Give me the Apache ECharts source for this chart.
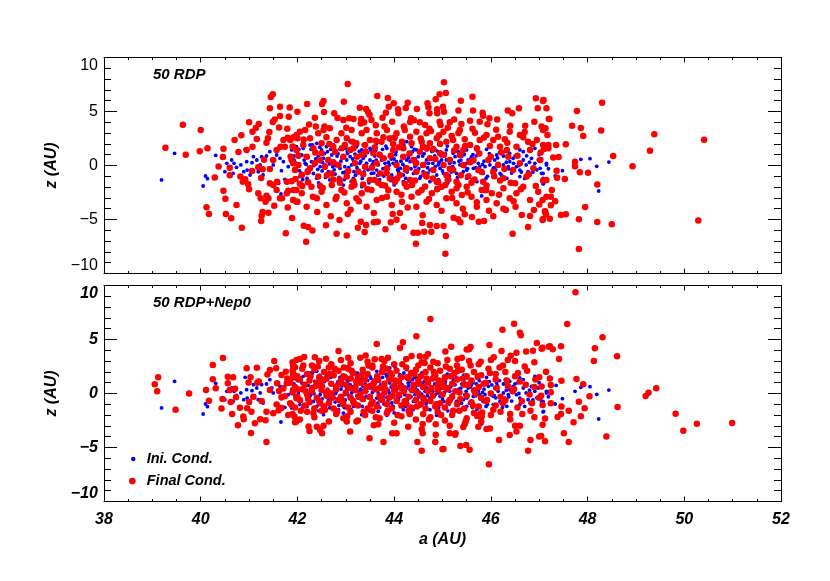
<!DOCTYPE html>
<html>
<head>
<meta charset="utf-8">
<script src="https://cdn.jsdelivr.net/npm/echarts@6/dist/echarts.min.js"></script>
<style>
html,body{margin:0;padding:0;background:#fff;}
#chart{width:830px;height:581px;}
</style>
</head>
<body>
<div id="chart"></div>
<script>
// ---- data (a [AU], z [AU]) ----
const panelTitles = ['50 RDP', '50 RDP+Nep0'];
const seriesNames = ['Ini. Cond.', 'Final Cond.'];
const aRange = [38, 52];
const zRange = [-10, 10];

// Initial conditions (identical in both panels)
const iniCond = [
[39.19,-1.34],[39.46,1.13],[40.05,-1.9],[40.1,-0.97],[40.14,-1.22],[40.31,0.94],[40.5,-0.57],[40.54,0.2],[40.64,0.51],[40.67,-0.73],[40.69,0.2],[40.74,-0.17],[40.83,0.05],[40.89,-0.57],[40.92,1.5],[40.95,0.35],[40.96,-0.42],[41.02,-0.88],[41.06,0.26],[41.09,0.82],[41.16,0.51],[41.19,-0.57],[41.23,0.05],[41.26,0.82],[41.29,-0.88],[41.36,0.88],[41.43,1.28],[41.47,0.51],[41.5,0.05],[41.57,0.97],[41.61,-1.65],[41.64,0.66],[41.66,-2.64],[41.67,-0.48],[41.71,0.35],[41.74,-1.28],[41.81,-0.11],[41.85,0.94],[41.88,1.44],[41.93,0.51],[41.98,-0.42],
[41.98,1.74],[42.12,1.59],[42.26,1.9],[42.4,2.05],[42.5,1.44],[42.6,1.74],[42.74,1.9],[42.88,1.5],[43.05,2.52],[43.09,2.21],[43.22,1.74],[43.36,1.9],[43.5,1.59],[43.64,2.05],[43.74,2.3],[43.85,1.59],[43.91,2.36],[44.02,2.42],[44.12,1.74],[44.26,2.21],[44.36,1.74],[44.46,1.44],[44.57,1.9],[44.67,1.44],[44.81,1.68],[44.91,1.28],[45.08,1.44],[45.22,1.13],[45.33,1.28],[45.5,1.44],[45.71,1.44],[45.91,1.5],[46.12,0.97],[46.26,0.88],[46.39,1.13],[46.6,1.44],[46.67,1.28],[46.91,1.59],[47.15,1.9],
[41.92,0.51],[42.02,0.05],[42.09,0.97],[42.19,-0.42],[42.29,0.35],[42.36,1.13],[42.47,-0.11],[42.54,0.66],[42.64,-0.57],[42.71,0.97],[42.81,0.2],[42.88,-0.26],[42.95,0.88],[43.02,0.51],[43.12,0.05],[43.19,1.06],[43.26,-0.42],[43.36,0.66],[43.43,0.2],[43.53,-0.73],[43.6,0.88],[43.67,0.05],[43.74,0.51],[43.85,-0.35],[43.91,0.97],[43.98,0.2],[44.09,-0.57],[44.16,0.82],[44.22,-0.11],[44.33,0.35],[44.4,-0.73],[44.5,0.82],[44.57,-0.05],[44.67,0.51],[44.74,-0.42],[44.84,0.88],[44.91,0.05],[45.02,-0.73],[45.08,0.51],[45.19,-0.26],[45.26,0.82],[45.36,0.05],[45.43,-0.57],[45.53,0.51],[45.64,-0.26],[45.74,0.2],[45.84,-0.73],[45.95,0.66],[46.05,-0.26],[46.15,0.2],[46.29,-0.42],[46.39,0.35],[46.53,-0.11],[46.67,0.51],[46.77,-0.57],[46.91,0.2],[47.02,-0.26],[47.15,0.05],
[41.95,-0.26],[42.16,0.2],[42.33,-0.73],[42.43,0.82],[42.57,0.05],[42.78,-0.79],[42.98,-0.11],[43.09,0.82],[43.29,0.2],[43.5,0.51],[43.64,-0.42],[43.81,0.66],[43.95,-0.88],[44.05,0.35],[44.19,-0.88],[44.29,0.97],[44.43,-0.11],[44.6,-0.57],[44.71,0.2],[44.88,-0.88],[44.98,0.51],[45.15,0.2],[45.29,-0.73],[45.46,-0.11],[45.6,0.82],[45.77,-0.11],[45.98,0.05],[46.19,-0.73],[46.36,-0.11],[46.6,-0.42],[46.84,0.66],[47.08,-0.73],
[41.88,-1.34],[42.05,-1.03],[42.22,-1.65],[42.4,-1.19],[42.54,-1.96],[42.67,-1.34],[42.85,-1.5],[42.95,-1.81],[43.16,-1.19],[43.33,-1.96],[43.47,-1.34],[43.67,-1.65],[43.85,-2.02],[43.98,-1.19],[44.19,-1.5],[44.36,-1.81],[44.53,-1.19],[44.74,-1.5],[44.88,-2.02],[45.08,-1.34],[45.29,-1.59],[45.5,-1.19],[45.71,-1.5],[45.81,-2.82],[46.05,-1.03],[46.33,-1.19],[46.6,-1.03],[46.81,-0.88],[47.08,-1.19],
[41.93,0.88],[42.04,-0.48],[42.22,0.76],[42.27,-0.17],[42.48,0.35],[42.62,1.28],[42.73,-0.11],[42.82,0.88],[42.94,-0.66],[43.03,1.28],[43.17,-0.57],[43.33,1.44],[43.42,-0.26],[43.57,0.35],[43.69,1.13],[43.79,-0.97],[43.9,0.05],[44.04,1.28],[44.13,-0.26],[44.26,0.51],[44.38,1.28],[44.46,0.05],[44.59,0.88],[44.66,-0.97],[44.8,0.2],[44.95,-0.26],[45.05,0.88],[45.14,-0.97],[45.24,0.26],[45.4,0.88],[45.5,-0.42],[45.65,0.35],[45.88,-0.11],[46.08,0.51],[46.26,0.05],[46.46,0.66],[46.73,0.05],[46.98,0.51],
[47.15,0.2],[47.19,-0.3],[47.33,-0.97],[47.35,0.75],[47.48,-0.48],[47.74,0.2],[47.86,0.57],[48.05,0.63],[48.19,-0.08],[48.23,-2.36],[48.44,0.32],[47.09,-1.65],[47.05,-0.73],[47.08,-1.71],
[42.0,1.2],[42.08,-0.7],[42.14,0.5],[42.2,-1.2],[42.28,1.5],[42.34,0.0],[42.42,-0.35],[42.46,1.7],[42.52,0.3],[42.58,-1.1],[42.66,0.15],[42.69,1.5],[42.76,-0.4],[42.84,1.1],[42.9,0.4],[42.97,-1.3],[43.0,1.6],[43.06,-0.2],[43.14,0.6],[43.2,-0.9],[43.24,1.9],[43.31,0.4],[43.38,-0.6],[43.45,1.2],[43.48,-1.6],[43.55,0.1],[43.62,1.4],[43.66,-0.9],[43.72,0.8],[43.77,-0.3],[43.83,1.8],[43.88,0.3],[43.93,-1.4],[44.0,0.6],[44.07,-0.4],[44.11,1.6],[44.18,0.1],[44.24,-1.2],[44.3,0.7],[44.35,-0.3],[44.42,1.5],[44.48,0.3],[44.55,-1.0],[44.62,1.1],[44.69,-0.2],[44.76,0.6],[44.83,-1.2],[44.87,1.4],[44.93,0.3],[45.0,-0.5],[45.06,1.1],[45.11,-1.6],[45.17,0.6],[45.21,-0.1],[45.28,1.5],[45.34,0.4],[45.39,-0.9],[45.45,1.0],[45.52,-0.3],[45.58,0.6],[45.62,-1.3],[45.7,0.9],[45.78,-0.5],[45.86,0.4],[45.93,-1.0],[46.02,0.8],[46.1,-0.4],[46.18,1.2],[46.24,-1.3],[46.32,0.3],[46.43,-0.7],[46.5,0.9],[46.58,0.0],[46.7,-1.2],[46.8,0.3],[46.95,-0.4],[47.05,0.6],
[41.95,0.3],[42.03,1.5],[42.11,-1.3],[42.18,0.1],[42.24,-0.6],[42.31,1.9],[42.38,0.6],[42.44,-1.6],[42.51,-0.5],[42.56,1.1],[42.62,0.4],[42.68,-0.8],[42.73,1.6],[42.79,0.0],[42.86,-1.1],[42.92,0.7],[42.99,-0.6],[43.04,1.1],[43.11,-1.5],[43.17,0.3],[43.23,-0.2],[43.28,1.3],[43.34,-1.2],[43.4,0.9],[43.46,-0.4],[43.52,1.4],[43.58,-0.7],[43.63,0.5],[43.7,-1.3],[43.76,1.5],[43.81,0.2],[43.87,-0.7],[43.94,0.6],[44.0,-1.8],[44.03,1.0],[44.09,-0.3],[44.14,0.4],[44.2,1.9],[44.27,-0.6],[44.32,1.1],[44.39,-1.5],[44.44,0.6],[44.51,-0.3],[44.58,1.7],[44.64,0.2],[44.7,-0.7],[44.78,1.3],[44.85,-0.1],[44.92,-1.3],[44.97,0.9],[45.04,0.1],[45.1,1.8],[45.18,-0.6],[45.23,1.3],[45.31,-1.1],[45.38,0.5],[45.44,1.7],[45.49,0.2],[45.56,-0.9],[45.63,1.0],[45.69,-0.2],[45.76,1.2],[45.83,0.1],[45.9,-1.2],[45.97,1.1],[46.07,-0.2],[46.14,0.7],[46.22,-0.9],[46.3,1.3],[46.37,-0.3],[46.47,0.2],[46.56,1.0],[46.63,-0.6],[46.74,0.9],[46.87,-0.6],[47.0,1.0]
];

// Final conditions, 50 RDP
const finalRDP = [
[39.27,1.65],[39.63,3.78],[39.69,1.0],[40.0,3.29],[39.98,1.31],[40.14,1.59],[40.12,-3.87],[40.17,-4.49],[40.47,-2.33],[40.47,1.56],[40.46,0.79],[40.51,-3.07],[40.52,-4.49],[40.63,-4.89],[40.7,2.36],[40.74,-3.66],[40.84,2.79],[40.78,1.25],[40.6,-0.2],[40.37,-0.1],[40.29,-1.1],[40.6,-0.9],[40.85,-5.76],[40.87,-1.5],[40.95,1.43],[41.0,4.0],[41.07,3.13],[41.07,1.74],[40.98,-1.74],[41.0,-2.2],[41.14,3.47],[41.16,2.45],[41.2,3.84],[41.25,-5.14],[41.26,-4.65],[41.28,-4.3],[41.31,0.54],[41.36,2.11],[41.42,3.1],[41.45,6.34],[41.49,6.59],[41.43,5.29],[41.49,4.02],[41.53,4.27],[41.64,4.58],[41.64,5.44],[41.79,3.41],[41.82,4.52],[41.84,5.38],[41.76,-6.28],[41.89,-4.86],[41.8,-3.9],[41.68,-3.04],[41.58,-1.5],[41.52,-3.72],[41.4,-4.37],[41.34,-3.35],
[40.82,-1.03],[40.92,-1.28],[41.06,-0.51],[41.19,-0.17],[41.28,-0.35],[41.25,-1.16],[41.43,-0.32],[41.5,0.51],[41.57,1.44],[41.65,1.74],[41.71,2.36],[41.74,1.74],[41.86,0.82],[41.91,1.74],[41.91,0.2],[41.98,1.44],[42.0,2.52],[41.96,-1.25],[41.98,-2.27],[42.0,-3.35],[41.91,-3.19],[41.78,-2.58],[41.57,-2.27],[41.5,-1.81],[41.43,-1.65],[41.19,-2.58],[41.64,-3.04],[41.78,-1.5],[41.4,-3.04],[41.24,-3.04],[41.36,-2.79],[41.81,-2.33],[41.8,2.58],[41.39,2.52],[41.62,3.53],
[43.04,7.55],[45.03,7.7],[45.07,6.71],[44.94,6.59],[43.65,6.44],[43.87,6.25],[45.62,6.37],[44.86,6.13],[44.69,5.76],[44.71,5.39],[45.01,5.45],[42.54,5.97],[42.51,5.69],[42.2,5.69],[42.96,5.91],[44.28,5.82],[43.99,5.76],[44.47,5.23],[44.09,4.83],[44.08,5.2],[44.24,5.32],[45.38,6.0],[44.73,4.83],[44.89,4.83],[44.89,5.2],[42.0,4.98],[42.55,4.95],[42.76,4.83],[43.29,5.35],[43.42,5.23],[43.46,4.95],[43.83,4.89],[43.89,5.45],[45.03,4.98],[45.33,5.1],[45.63,5.1],[45.83,4.89],[45.84,4.61],[46.35,5.1],[46.58,5.29],[46.93,6.22],[46.97,5.29],[47.08,5.97],[47.2,4.31],[42.36,4.43],[42.95,4.21],[43.07,4.37],[43.16,4.31],[43.32,4.31],[43.38,4.0],[43.53,4.21],[43.62,3.72],[43.76,4.43],[43.96,4.06],[44.35,4.37],[44.33,4.03],[44.53,4.0],[44.64,3.75],[44.73,3.41],[44.94,4.06],[44.96,3.75],[45.15,4.0],[45.24,4.27],[45.39,3.84],[45.57,4.15],[45.77,4.06],[45.93,3.81],[45.97,4.37],[46.13,4.27],[46.4,3.69],[46.44,4.83],[46.71,3.69],[46.9,4.06],[47.13,3.44],
[42.18,-7.05],[45.06,-8.16],[44.45,-7.24],[43.02,-6.47],[42.81,-6.31],[42.22,-5.69],[42.13,-5.57],[42.31,-6.03],[42.59,-5.54],[42.87,-5.05],[43.04,-4.49],[43.25,-5.76],[43.31,-5.2],[43.39,-6.16],[43.42,-5.51],[43.58,-5.26],[43.66,-5.2],[43.82,-5.91],[43.93,-5.26],[44.05,-5.02],[44.12,-4.4],[44.2,-5.66],[44.4,-6.22],[44.49,-6.22],[44.58,-5.32],[44.62,-6.13],[44.74,-5.51],[44.77,-6.13],[44.88,-5.6],[45.02,-5.6],[45.07,-6.53],[45.23,-4.83],[45.32,-4.98],[45.37,-5.26],[45.46,-4.52],[45.61,-4.77],[45.75,-5.2],[45.86,-5.14],[46.05,-4.71],[46.26,-4.0],[46.31,-4.12],[46.45,-6.31],[46.51,-3.81],[46.64,-4.58],[46.77,-5.69],[46.81,-4.68],[46.89,-4.12],[47.08,-4.95],[47.12,-4.27],
[41.85,2.36],[41.92,2.61],[41.98,2.82],[42.05,3.13],[42.16,3.29],[42.26,2.52],[42.38,3.6],[42.43,2.98],[42.54,3.29],[42.6,2.61],[42.67,3.44],[42.81,2.36],[42.91,2.98],[43.02,2.52],[43.12,3.29],[43.22,2.05],[43.33,2.98],[43.43,3.29],[43.5,2.36],[43.64,2.98],[43.74,2.21],[43.85,3.29],[43.91,2.52],[44.05,2.98],[44.16,2.21],[44.22,3.29],[44.33,2.67],[44.46,3.13],[44.57,2.21],[44.67,2.98],[44.74,2.05],[44.88,2.52],[45.02,3.13],[45.08,2.21],[45.19,2.73],[45.29,1.74],[45.36,3.29],[45.46,2.42],[45.57,1.9],[45.67,3.04],[45.77,2.36],[45.91,2.82],[46.05,2.36],[46.19,1.74],[46.29,2.42],[46.39,3.13],[46.53,1.74],[46.67,2.61],[46.81,1.44],[46.95,2.36],[47.08,1.9],[47.19,1.59],
[41.88,0.51],[41.95,-0.42],[42.02,0.05],[42.09,-0.88],[42.19,0.82],[42.26,-0.26],[42.36,0.2],[42.43,-1.03],[42.5,1.13],[42.57,-0.11],[42.64,0.51],[42.71,-0.73],[42.78,1.28],[42.85,0.05],[42.95,0.82],[43.02,-1.03],[43.09,1.44],[43.19,0.2],[43.26,-0.57],[43.33,0.97],[43.4,-0.11],[43.5,-1.34],[43.57,1.13],[43.64,0.2],[43.71,-0.73],[43.78,0.66],[43.85,-0.26],[43.91,-1.19],[43.98,1.44],[44.05,0.05],[44.12,-0.88],[44.19,0.82],[44.26,-0.26],[44.33,-1.34],[44.4,0.51],[44.46,-0.57],[44.53,1.28],[44.6,0.05],[44.67,-1.03],[44.74,0.66],[44.81,-0.42],[44.88,-1.5],[44.95,1.13],[45.02,0.05],[45.08,-0.88],[45.15,0.51],[45.22,-0.42],[45.29,-1.5],[45.36,0.97],[45.43,0.05],[45.53,-1.03],[45.64,0.51],[45.74,-0.42],[45.84,-1.5],[45.95,0.51],[46.05,-0.57],[46.15,0.05],[46.26,-1.19],[46.36,0.82],[46.46,-0.42],[46.6,0.2],[46.74,-1.03],[46.88,-0.26],[47.02,0.51],[47.15,-1.34],
[41.92,-2.27],[41.98,-3.35],[42.09,-2.58],[42.19,-3.81],[42.29,-1.96],[42.4,-3.04],[42.5,-2.42],[42.6,-3.66],[42.71,-1.81],[42.81,-2.89],[42.91,-2.27],[43.02,-3.5],[43.12,-1.96],[43.22,-3.04],[43.33,-2.58],[43.43,-3.81],[43.53,-2.27],[43.64,-3.19],[43.74,-1.81],[43.85,-2.89],[43.95,-3.66],[44.05,-2.42],[44.16,-3.35],[44.26,-1.96],[44.36,-2.89],[44.46,-3.81],[44.57,-2.27],[44.67,-3.35],[44.78,-2.58],[44.88,-3.66],[44.98,-1.96],[45.08,-3.04],[45.19,-2.42],[45.29,-3.5],[45.4,-2.73],[45.5,-1.96],[45.6,-2.89],[45.71,-3.81],[45.81,-2.27],[45.91,-3.19],[46.02,-2.58],[46.12,-3.5],[46.26,-2.11],[46.39,-3.04],[46.53,-2.58],[46.67,-1.96],[46.81,-3.19],[46.98,-2.42],[47.15,-2.89],
[41.9,1.74],[42.12,1.9],[42.33,1.59],[42.5,2.05],[42.74,1.74],[42.98,1.9],[43.16,1.59],[43.4,1.9],[43.6,1.68],[43.78,2.61],[43.98,1.99],[44.19,1.59],[44.36,2.05],[44.6,1.74],[44.81,1.5],[44.95,1.99],[45.22,2.36],[45.43,1.44],[45.71,1.59],[45.98,1.81],[46.15,2.67],[46.33,1.44],[46.6,2.82],[46.77,2.21],[47.08,3.29],
[41.88,-1.45],[42.05,-1.7],[42.22,-1.55],[42.47,-1.9],[42.74,-1.3],[42.88,-1.6],[43.16,-1.45],[43.36,-1.75],[43.6,-1.35],[43.81,-1.85],[44.02,-1.5],[44.22,-1.7],[44.43,-1.4],[44.64,-1.95],[44.91,-1.55],[45.12,-1.3],[45.33,-1.8],[45.6,-1.6],[45.91,-1.85],[46.19,-1.4],[46.5,-1.65],
[42.02,0.9],[42.1,-1.9],[42.13,2.4],[42.21,-0.6],[42.24,3.8],[42.32,-2.9],[42.37,1.2],[42.41,-4.3],[42.46,0.5],[42.52,-2.1],[42.56,3.6],[42.61,-0.9],[42.66,2.0],[42.69,-4.7],[42.74,0.3],[42.79,-3.1],[42.83,4.4],[42.87,-1.3],[42.92,1.6],[42.97,-2.5],[43.01,3.5],[43.05,-0.5],[43.1,-4.1],[43.14,2.2],[43.18,-1.8],[43.23,0.8],[43.27,-3.3],[43.31,3.9],[43.36,-0.8],[43.41,1.3],[43.45,-2.2],[43.49,4.7],[43.54,-0.2],[43.58,-4.4],[43.62,2.3],[43.67,-1.6],[43.7,1.0],[43.75,-3.0],[43.8,3.6],[43.84,-0.7],[43.88,-2.3],[43.93,0.9],[43.97,-4.5],[44.01,2.6],[44.06,-1.2],[44.1,1.7],[44.15,-2.7],[44.2,3.6],[44.24,-0.4],[44.28,-3.9],[44.32,1.1],[44.37,-1.8],[44.41,4.2],[44.45,0.2],[44.5,-2.5],[44.55,2.5],[44.59,-4.6],[44.63,-0.8],[44.68,1.6],[44.72,-3.1],[44.76,3.2],[44.8,-1.2],[44.85,0.6],[44.89,-2.2],[44.93,2.8],[44.98,-4.2],[45.02,1.0],[45.06,-1.8],[45.11,3.5],[45.15,-0.3],[45.2,-3.0],[45.24,1.4],[45.29,-2.1],[45.33,3.0],[45.38,-0.9],[45.42,-4.0],[45.47,1.8],[45.52,-2.5],[45.57,0.3],[45.62,3.4],[45.66,-1.3],[45.71,-3.4],[45.76,1.1],[45.81,-0.6],[45.86,2.6],[45.9,-2.3],[45.96,-4.2],[46.0,0.8],[46.07,-1.0],[46.11,3.3],[46.17,-2.7],[46.22,1.2],[46.28,-0.3],[46.34,2.1],[46.41,-1.6],[46.47,-3.3],[46.55,0.9],[46.62,-2.2],[46.7,3.1],[46.78,-0.8],[46.86,2.0],[46.93,-1.9],[47.0,-3.6],[47.03,1.2],
[47.09,6.06],[47.15,5.29],[47.21,4.31],[47.05,3.6],[47.17,2.82],[47.1,1.53],[47.19,1.9],[47.35,1.9],[47.29,0.75],[47.4,0.79],[47.55,1.96],[47.74,0.35],[47.74,-0.08],[47.68,3.69],[47.78,5.04],[47.86,3.47],[47.91,2.73],[48.3,5.82],[48.28,3.23],[48.53,0.88],[48.93,-0.08],[49.29,1.37],[49.38,2.89],[50.41,2.39],[50.29,-5.1],[48.5,-5.45],[48.2,-5.23],[47.95,-3.84],[47.82,-4.98],[47.82,-7.73],[48.2,-1.77],[48.01,-0.66],[47.84,-0.63],[47.53,-1.25],[47.37,-1.13],[47.36,-0.48],[47.26,-2.27],[47.24,-2.89],[47.33,-3.32],[47.24,-3.69],[47.12,-4.24],[47.14,-4.52],[47.22,-4.92],[47.07,-5.04],[47.45,-4.58],[47.55,-4.52],[47.07,-3.2],[47.08,-1.4]
];

// Final conditions, 50 RDP+Nep0
const finalRDPNep0 = [
[39.05,0.85],[39.12,1.5],[39.1,0.2],[39.48,-1.5],[39.76,0.0],[40.11,0.32],[40.25,2.64],[40.25,1.31],[40.31,0.48],[40.17,-0.66],[40.45,-0.51],[40.46,3.29],[40.43,-1.4],[40.56,1.56],[40.56,0.94],[40.62,-0.79],[40.67,1.5],[40.71,0.45],[40.77,-2.95],[40.65,-1.9],[40.88,-2.14],[40.95,2.33],[40.96,-1.37],[41.03,1.5],[41.04,-3.66],[41.16,2.39],[41.12,-2.76],[41.36,-4.49],[41.52,3.01],[41.98,3.1],
[40.81,-1.31],[40.99,1.03],[41.09,-0.29],[41.17,1.0],[41.26,-0.69],[41.23,-2.39],[41.34,-2.48],[41.38,1.77],[41.43,0.32],[41.43,2.18],[41.56,2.33],[41.58,0.94],[41.57,-1.03],[41.62,0.23],[41.67,1.71],[41.76,2.02],[41.78,0.94],[41.79,1.4],[41.61,-1.56],[41.67,-1.34],[41.67,-0.35],[41.71,0.48],[41.74,-0.26],[41.91,2.58],[41.95,2.42],[41.91,1.81],[42.02,1.34],[41.97,-2.61],[41.94,-2.15],[40.73,-0.35],[40.6,0.32],[40.89,-2.39],[41.2,1.1],[41.85,1.25],[41.91,0.32],[41.98,-0.45],[41.88,-1.06],[41.81,-1.99],[41.5,-1.84],[41.36,-1.68],[41.05,-1.68],[41.0,-0.76],
[41.9,2.9],[42.05,3.2],[42.3,2.6],[42.45,3.0],[42.7,2.7],[42.9,3.1],[43.1,2.8],[43.3,3.3],[43.55,2.6],[43.8,3.0],[44.0,2.7],[44.25,3.2],[44.5,2.6],[44.65,3.4],[44.9,2.8],[45.1,3.1],[45.3,2.6],[45.55,3.0],[45.75,2.7],[46.0,3.1],[46.25,2.6],[46.5,3.0],[46.7,2.5],[46.9,2.9],
[41.9,2.1],[42.0,1.6],[42.1,2.3],[42.2,1.8],[42.35,2.2],[42.45,1.5],[42.55,2.0],[42.65,2.4],[42.75,1.7],[42.85,2.1],[42.95,1.6],[43.05,2.3],[43.15,1.9],[43.25,1.5],[43.35,2.2],[43.45,1.8],[43.55,2.4],[43.65,1.6],[43.75,2.0],[43.85,2.3],[43.95,1.7],[44.05,2.1],[44.15,1.5],[44.25,2.4],[44.35,1.9],[44.45,2.2],[44.55,1.6],[44.65,2.0],[44.75,2.4],[44.85,1.7],[44.95,2.1],[45.05,1.5],[45.15,2.3],[45.25,1.9],[45.4,2.2],[45.5,1.6],[45.65,2.0],[45.8,1.7],[45.95,2.3],[46.1,1.8],[46.3,2.0],[46.5,1.6],[46.75,2.1],[47.0,1.5],
[41.85,1.0],[41.95,0.6],[42.05,1.3],[42.15,0.8],[42.25,1.2],[42.3,0.5],[42.4,1.0],[42.5,0.7],[42.6,1.4],[42.7,0.9],[42.8,0.6],[42.9,1.2],[43.0,0.8],[43.1,1.4],[43.2,0.6],[43.3,1.0],[43.4,1.3],[43.5,0.7],[43.6,1.1],[43.7,0.5],[43.8,0.9],[43.9,1.3],[44.0,0.7],[44.1,1.1],[44.2,0.5],[44.3,1.4],[44.4,0.8],[44.5,1.2],[44.6,0.6],[44.7,1.0],[44.8,1.4],[44.9,0.7],[45.0,1.1],[45.1,0.5],[45.2,0.9],[45.3,1.3],[45.45,0.8],[45.6,1.2],[45.75,0.6],[45.9,1.0],[46.1,1.3],[46.35,0.7],[46.6,1.1],[46.9,0.6],
[41.9,0.1],[42.0,-0.3],[42.1,0.4],[42.2,-0.1],[42.3,0.2],[42.4,-0.4],[42.5,0.3],[42.6,-0.2],[42.7,0.0],[42.8,0.4],[42.9,-0.3],[43.0,0.1],[43.1,-0.4],[43.2,0.3],[43.3,-0.1],[43.4,0.2],[43.5,-0.3],[43.6,0.4],[43.7,-0.2],[43.8,0.1],[43.9,-0.4],[44.0,0.3],[44.1,-0.1],[44.2,0.2],[44.3,-0.3],[44.4,0.4],[44.5,0.0],[44.6,-0.4],[44.7,0.2],[44.8,-0.2],[44.9,0.3],[45.0,-0.1],[45.1,0.4],[45.2,-0.3],[45.35,0.1],[45.5,-0.2],[45.65,0.3],[45.8,-0.4],[46.0,0.0],[46.2,-0.3],[46.45,0.2],[46.8,-0.1],
[41.85,-0.9],[41.95,-1.3],[42.05,-0.6],[42.15,-1.1],[42.25,-0.8],[42.35,-1.4],[42.45,-0.7],[42.55,-1.2],[42.65,-0.9],[42.75,-1.4],[42.85,-0.6],[42.95,-1.0],[43.05,-1.3],[43.15,-0.7],[43.25,-1.1],[43.35,-0.5],[43.45,-1.4],[43.55,-0.8],[43.65,-1.2],[43.75,-0.6],[43.85,-1.0],[43.95,-1.4],[44.05,-0.7],[44.15,-1.1],[44.25,-0.9],[44.35,-1.3],[44.45,-0.6],[44.55,-1.0],[44.65,-1.4],[44.75,-0.7],[44.85,-1.2],[44.95,-0.9],[45.05,-1.3],[45.15,-0.6],[45.3,-1.0],[45.45,-1.4],[45.6,-0.8],[45.75,-1.2],[45.9,-0.7],[46.1,-1.1],[46.3,-0.6],[46.55,-1.3],[46.85,-0.9],
[41.9,-1.9],[42.05,-2.4],[42.2,-1.7],[42.35,-2.2],[42.5,-1.6],[42.65,-2.6],[42.8,-1.9],[42.95,-2.3],[43.1,-1.7],[43.25,-2.5],[43.4,-2.0],[43.55,-1.6],[43.7,-2.3],[43.85,-1.8],[44.0,-2.7],[44.15,-2.1],[44.3,-1.6],[44.45,-2.4],[44.6,-1.9],[44.75,-2.2],[44.9,-1.7],[45.05,-2.5],[45.2,-2.0],[45.35,-1.6],[45.5,-2.3],[45.65,-1.8],[45.8,-2.6],[46.0,-2.0],[46.2,-1.7],[46.4,-2.4],[46.65,-1.9],[46.9,-2.2],
[41.93,1.5],[42.0,0.4],[42.07,-1.6],[42.12,2.6],[42.17,0.2],[42.22,-0.5],[42.27,1.6],[42.33,-1.8],[42.38,0.7],[42.42,2.5],[42.47,-0.9],[42.52,1.2],[42.57,-1.5],[42.62,0.2],[42.67,1.8],[42.72,-0.4],[42.77,2.3],[42.82,-1.7],[42.87,0.9],[42.92,-0.7],[42.98,1.5],[43.03,-2.1],[43.08,0.5],[43.12,2.1],[43.17,-0.9],[43.22,1.1],[43.27,-0.3],[43.32,1.7],[43.37,-1.7],[43.42,0.6],[43.47,2.6],[43.52,-1.0],[43.57,0.9],[43.62,-2.2],[43.67,1.3],[43.72,-0.5],[43.77,2.5],[43.82,0.4],[43.87,-1.6],[43.92,1.9],[43.97,-0.2],[44.02,1.2],[44.07,-2.0],[44.12,0.6],[44.17,2.7],[44.22,-0.7],[44.27,1.5],[44.32,-1.9],[44.37,0.3],[44.42,1.8],[44.47,-1.2],[44.52,0.9],[44.57,2.9],[44.62,-0.6],[44.67,1.4],[44.72,-2.4],[44.77,0.5],[44.82,2.0],[44.87,-1.0],[44.92,1.2],[44.97,-2.0],[45.02,0.6],[45.07,2.5],[45.12,-0.8],[45.17,1.6],[45.22,-1.6],[45.27,0.2],[45.32,2.1],[45.37,-0.5],[45.42,1.4],[45.48,-2.6],[45.53,0.8],[45.58,2.6],[45.63,-1.1],[45.68,0.0],[45.73,1.6],[45.78,-1.9],[45.85,0.9],[45.92,-0.6],[45.98,1.9],[46.05,-1.5],[46.12,0.5],[46.18,2.4],[46.25,-0.9],[46.33,1.2],[46.4,-1.9],[46.48,0.4],[46.56,1.9],[46.64,-0.7],[46.72,0.8],[46.82,-1.6],[46.92,1.3],[47.0,-0.4],
[44.75,6.9],[46.48,6.46],[46.24,5.9],[46.6,5.62],[46.62,5.4],[44.46,5.29],[43.64,4.58],[44.18,4.74],[44.12,4.21],[45.97,4.49],[45.58,4.3],[45.55,4.1],[45.5,4.07],[45.18,4.34],[45.06,3.9],[42.85,3.93],[46.95,4.67],[46.73,3.9],[46.87,3.96],[47.05,4.15],[47.2,4.34],[46.22,3.93],[46.53,3.78],[44.7,3.66],[44.63,2.82],[44.53,3.44],[43.41,3.53],[43.74,3.19],[43.87,3.32],[43.45,2.95],[43.6,3.16],[42.14,3.38],[42.36,3.35],[43.05,3.32],[42.96,2.4],[42.59,3.22],[44.36,3.47],[44.81,2.95],[45.31,3.19],[45.4,3.3],[45.79,2.95],[46.06,3.35],[46.35,3.1],[46.41,3.5],
[45.96,-6.56],[44.57,-5.29],[45.02,-5.14],[45.0,-5.17],[45.56,-5.2],[45.49,-4.77],[45.37,-4.86],[44.48,-4.49],[44.85,-4.49],[45.15,-3.69],[45.26,-3.81],[45.27,-3.69],[44.86,-3.81],[44.59,-3.69],[43.78,-4.49],[44.05,-3.69],[43.96,-3.69],[43.49,-4.15],[43.09,-3.53],[42.51,-3.69],[42.47,-3.38],[42.25,-3.47],[42.23,-3.05],[42.4,-3.07],[46.17,-4.3],[46.77,-5.29],[46.82,-4.3],[47.0,-3.97],[46.53,-3.53],[46.5,-2.98],[46.6,-2.98],[46.39,-3.84],[45.91,-3.29],[45.98,-3.25],[45.74,-3.07],[45.72,-2.08],[45.81,-2.14],[45.82,-1.77],[45.43,-3.1],[45.46,-2.82],[45.15,-2.98],[44.86,-2.85],[44.57,-3.32],[44.59,-2.82],[44.29,-3.07],[43.67,-2.85],[43.58,-2.94],[43.22,-2.6],[43.02,-2.6],[42.54,-2.98],[41.95,-2.67],
[47.75,9.37],[47.58,6.43],[48.31,5.2],[48.15,4.18],[48.61,3.44],[48.13,3.01],[47.07,4.24],[47.22,4.37],[47.28,4.09],[47.45,4.37],[47.41,3.19],[47.14,2.02],[47.22,1.4],[47.46,1.19],[47.77,1.34],[47.91,0.85],[47.24,0.79],[47.05,0.65],[47.24,0.11],[47.04,-0.2],[48.04,-0.26],[48.62,-1.25],[49.2,-0.23],[49.26,0.08],[49.42,0.48],[49.82,-1.87],[49.98,-3.44],[50.26,-2.79],[50.99,-2.73],[48.39,-3.97],[47.61,-4.49],[47.51,-3.69],[47.71,-2.67],[47.86,-2.11],[47.94,-1.37],[47.82,-0.76],[47.61,-1.59],[47.45,-1.9],[47.38,-2.18],[47.46,-1.2],[47.24,-0.91],[47.07,-1.06],[47.07,-2.89],[47.12,-2.31],[47.12,-4.43],[47.04,-3.94]
];

// ---- chart ----
const FONT = "'Liberation Sans', Arial, Helvetica, sans-serif";
const chart = echarts.init(document.getElementById('chart'), null, {renderer: 'canvas'});

function xAx(gridIndex, position, showLabels) {
  const ax = {
    type: 'value', gridIndex: gridIndex, position: position,
    min: aRange[0], max: aRange[1], interval: 2,
    axisLine: {show: true, onZero: false, lineStyle: {color: '#000', width: 1}},
    axisTick: {show: true, inside: true, length: 5, lineStyle: {color: '#000', width: 1}},
    minorTick: {show: true, splitNumber: 4, length: 2.5, lineStyle: {color: '#000', width: 1}},
    splitLine: {show: false},
    axisLabel: {show: showLabels, margin: 10, color: '#000', fontFamily: FONT,
      fontSize: 16, fontWeight: 'bold', fontStyle: 'italic'}
  };
  if (showLabels) {
    ax.name = 'a (AU)';
    ax.nameLocation = 'middle';
    ax.nameGap = 30;
    ax.nameTextStyle = {color: '#000', fontFamily: FONT, fontSize: 16, fontWeight: 'bold', fontStyle: 'italic'};
  }
  return ax;
}
function yAx(gridIndex, position, showLabels, boldItalic) {
  const ax = {
    type: 'value', gridIndex: gridIndex, position: position,
    min: zRange[0], max: zRange[1], interval: 5,
    axisLine: {show: true, onZero: false, lineStyle: {color: '#000', width: 1}},
    axisTick: {show: true, inside: true, length: 13, lineStyle: {color: '#000', width: 1}},
    minorTick: {show: true, splitNumber: 5, length: 7, lineStyle: {color: '#000', width: 1}},
    splitLine: {show: false},
    axisLabel: {show: showLabels, margin: 6, color: '#000', fontFamily: FONT, fontSize: 16,
      fontWeight: boldItalic ? 'bold' : 'normal', fontStyle: boldItalic ? 'italic' : 'normal',
      verticalAlignMaxLabel: 'top', verticalAlignMinLabel: 'bottom',
      formatter: function (v) { return v < 0 ? '\u2212' + Math.abs(v) : String(v); }}
  };
  if (showLabels) {
    ax.name = 'z (AU)';
    ax.nameLocation = 'middle';
    ax.nameGap = 44;
    ax.nameTextStyle = {color: '#000', fontFamily: FONT, fontSize: 16, fontWeight: 'bold', fontStyle: 'italic'};
  }
  return ax;
}

const titleStyle = {color: '#000', fontFamily: FONT, fontSize: 15, fontWeight: 'bold', fontStyle: 'italic'};
const legendText = {color: '#000', fontFamily: FONT, fontSize: 14.5, fontWeight: 'bold', fontStyle: 'italic'};
const blueStyle = {color: '#0000ff', opacity: 1};
const redStyle = {color: '#ff0000', opacity: 1};

const option = {
  backgroundColor: '#fff',
  animation: false,
  title: [
    {text: panelTitles[0], left: 153, top: 67, padding: 0, textStyle: titleStyle},
    {text: panelTitles[1], left: 153, top: 295, padding: 0, textStyle: titleStyle}
  ],
  legend: [
    {data: [seriesNames[0]], left: 131, top: 451.5, padding: 0, icon: 'circle',
      itemWidth: 16.8, itemHeight: 4.5, textStyle: legendText, selectedMode: false, itemStyle: {opacity: 1}},
    {data: [seriesNames[1]], left: 129, top: 473.5, padding: 0, icon: 'circle',
      itemWidth: 18.8, itemHeight: 6.7, textStyle: legendText, selectedMode: false, itemStyle: {opacity: 1}}
  ],
  grid: [
    {left: 104, right: 49, top: 57.5, height: 216, containLabel: false},
    {left: 104, right: 49, top: 285.5, height: 216, containLabel: false}
  ],
  xAxis: [xAx(0, 'bottom', false), xAx(0, 'top', false), xAx(1, 'bottom', true), xAx(1, 'top', false)],
  yAxis: [yAx(0, 'left', true, false), yAx(0, 'right', false, false), yAx(1, 'left', true, true), yAx(1, 'right', false, true)],
  series: [
    {name: seriesNames[0], type: 'scatter', xAxisIndex: 0, yAxisIndex: 0, data: iniCond,
      symbol: 'circle', symbolSize: 3.8, itemStyle: blueStyle, z: 2},
    {name: seriesNames[1], type: 'scatter', xAxisIndex: 0, yAxisIndex: 0, data: finalRDP,
      symbol: 'circle', symbolSize: 6.5, itemStyle: redStyle, z: 3},
    {name: seriesNames[0], type: 'scatter', xAxisIndex: 2, yAxisIndex: 2, data: iniCond,
      symbol: 'circle', symbolSize: 3.8, itemStyle: blueStyle, z: 2},
    {name: seriesNames[1], type: 'scatter', xAxisIndex: 2, yAxisIndex: 2, data: finalRDPNep0,
      symbol: 'circle', symbolSize: 6.5, itemStyle: redStyle, z: 3}
  ]
};
chart.setOption(option);
</script>
</body>
</html>
